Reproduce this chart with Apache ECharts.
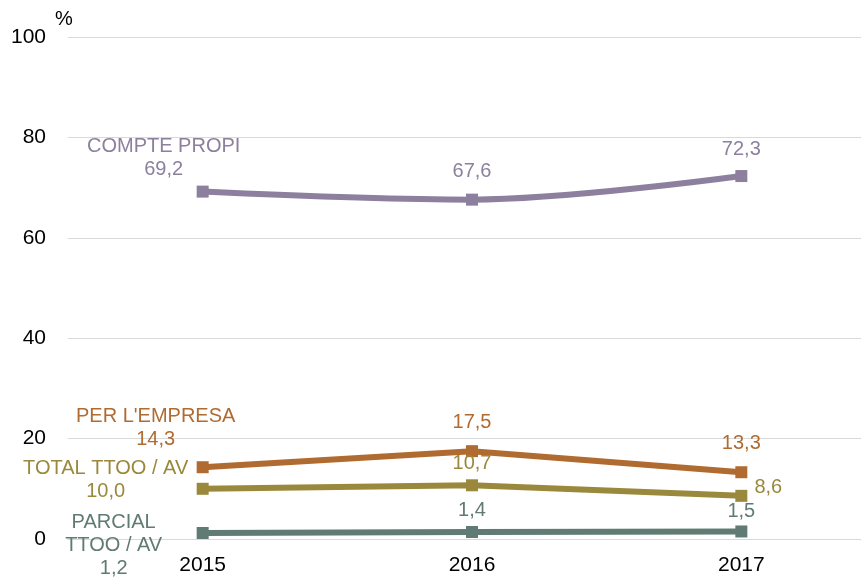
<!DOCTYPE html>
<html>
<head>
<meta charset="utf-8">
<script src="https://cdn.jsdelivr.net/npm/echarts@6/dist/echarts.min.js"></script>
<style>
  html, body { margin: 0; padding: 0; background: #fff; }
  #chart { width: 861px; height: 578px; }
</style>
</head>
<body>
<div id="chart"></div>
<script>
// data
const years = ['2015', '2016', '2017'];
const comptePropi = [69.2, 67.6, 72.3];
const perEmpresa = [14.3, 17.5, 13.3];
const totalTtoo = [10.0, 10.7, 8.6];
const parcialTtoo = [1.2, 1.4, 1.5];
const yTicks = [0, 20, 40, 60, 80, 100];

const fmt = v => v.toFixed(1).replace('.', ',');

// builds data items; first point carries the series name
function points(values, name, color, offsets) {
  return values.map((v, i) => ({
    value: v,
    label: {
      show: true,
      position: 'inside',
      offset: offsets[i],
      color: color,
      fontSize: 20,
      lineHeight: 23,
      align: 'center',
      verticalAlign: 'middle',
      formatter: () => (i === 0 && name ? name + '\n' : '') + fmt(v)
    }
  }));
}

function line(values, name, color, offsets, smooth) {
  return {
    type: 'line',
    smooth: smooth ? 0.35 : false,
    symbol: 'rect',
    symbolSize: 12,
    lineStyle: { color: color, width: 6 },
    itemStyle: { color: color },
    data: points(values, name, color, offsets),
    z: 3
  };
}

const chart = echarts.init(document.getElementById('chart'));
chart.setOption({
  animation: false,
  title: {
    text: '%', left: 50, top: 4,
    textStyle: { fontSize: 20, fontWeight: 'normal', color: '#000', fontFamily: 'Liberation Sans' }
  },
  textStyle: { fontFamily: 'Liberation Sans' },
  // plot runs past the right edge so the categories keep their spacing
  grid: { left: 68, width: 808, top: 37, bottom: 39, containLabel: false, outerBoundsMode: 'none' },
  xAxis: {
    type: 'category',
    data: years,
    boundaryGap: true,
    axisLine: { show: true, lineStyle: { color: '#d9d9d9', width: 1 } },
    axisTick: { show: false },
    axisLabel: { color: '#000', fontSize: 21, margin: 16 }
  },
  yAxis: {
    type: 'value',
    min: yTicks[0],
    max: yTicks[yTicks.length - 1],
    interval: 20,
    axisLine: { show: false },
    axisTick: { show: false },
    axisLabel: { color: '#000', fontSize: 21, margin: 22 },
    splitLine: { lineStyle: { color: '#d9d9d9', width: 1 } }
  },
  series: [
    line(comptePropi, 'COMPTE PROPI', '#8c809e', [[-39, -34], [0, -28], [0, -27]], true),
    line(perEmpresa, "PER L'EMPRESA", '#b06b31', [[-47, -39], [0, -29], [0, -29]], false),
    line(totalTtoo, 'TOTAL TTOO / AV', '#9a893c', [[-97, -9], [0, -22], [27, -8]], false),
    line(parcialTtoo, 'PARCIAL\nTTOO / AV', '#607b73', [[-89, 13], [0, -21], [0, -20]], false)
  ]
});
</script>
</body>
</html>
